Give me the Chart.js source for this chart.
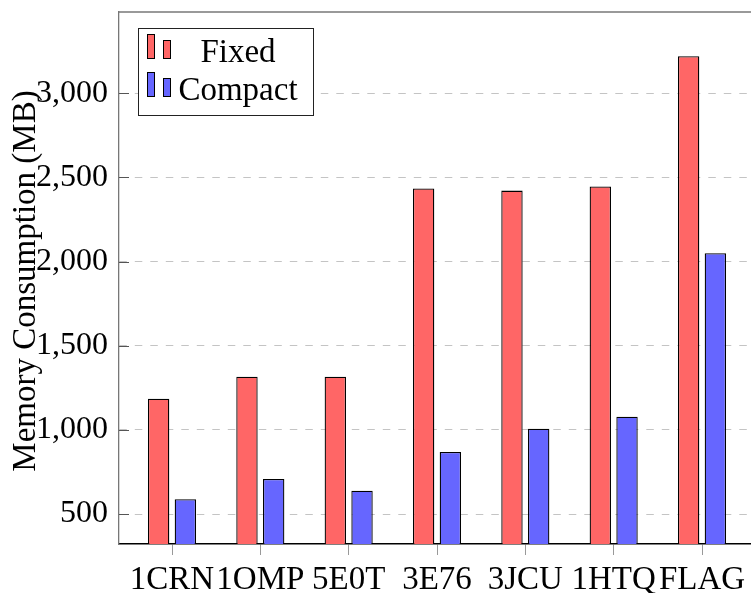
<!DOCTYPE html>
<html>
<head>
<meta charset="utf-8">
<script src="https://cdn.jsdelivr.net/npm/chart.js@4/dist/chart.umd.min.js"></script>
<style>
  html, body { margin: 0; padding: 0; background: #fff; overflow: hidden; }
  #wrap { width: 760px; height: 593px; }
</style>
</head>
<body>
<div id="wrap"><canvas id="chart" width="760" height="593"></canvas></div>
<script>
// Protein structures on the x axis
const categories = ['1CRN', '1OMP', '5E0T', '3E76', '3JCU', '1HTQ', 'FLAG'];
// Memory consumption in MB for each storage scheme
const fixedMB   = [1185, 1316, 1316, 2434, 2421, 2446, 3219];
const compactMB = [588, 708, 639, 869, 1007, 1078, 2049];
const seriesNames = ['Fixed', 'Compact'];
const yTickValues = [500, 1000, 1500, 2000, 2500, 3000];
const yAxisTitle = 'Memory Consumption (MB)';

const SERIF = "'Liberation Serif', 'Times New Roman', serif";
Chart.defaults.font.family = SERIF;
Chart.defaults.color = '#000';

const toPoints = arr => arr.map((v, i) => ({ x: i, y: v }));

// Frame pieces, inward y ticks, y title and the boxed legend
const decorations = {
  id: 'decorations',
  beforeDatasetsDraw(chart) {
    const { ctx, chartArea: a, scales: { y } } = chart;
    ctx.save();
    ctx.strokeStyle = '#555';
    ctx.lineWidth = 1;
    y.ticks.forEach(t => {
      const py = Math.round(y.getPixelForValue(t.value)) + 0.5;
      ctx.beginPath();
      ctx.moveTo(a.left, py);
      ctx.lineTo(a.left + 10, py);
      ctx.stroke();
    });
    ctx.strokeStyle = '#777';
    ctx.lineWidth = 1.3;
    ctx.beginPath();
    ctx.moveTo(a.left, a.top);
    ctx.lineTo(a.right, a.top);
    ctx.stroke();
    ctx.restore();
  },
  afterDraw(chart) {
    const { ctx, chartArea: a } = chart;
    ctx.save();
    // y axis title
    ctx.translate(35, (a.top + a.bottom) / 2 + 3);
    ctx.rotate(-Math.PI / 2);
    ctx.font = '33px ' + SERIF;
    ctx.fillStyle = '#000';
    ctx.textAlign = 'center';
    ctx.textBaseline = 'alphabetic';
    ctx.fillText(yAxisTitle, 0, 0);
    ctx.restore();

    // legend
    ctx.save();
    const bx = a.left + 19, by = a.top + 16, bw = 175, bh = 87;
    ctx.fillStyle = '#fff';
    ctx.fillRect(bx, by, bw, bh);
    ctx.strokeStyle = '#222';
    ctx.lineWidth = 1;
    ctx.strokeRect(bx + 0.5, by + 0.5, bw, bh);
    chart.data.datasets.forEach((ds, i) => {
      const rowBase = by + 34 + i * 38;
      ctx.fillStyle = ds.backgroundColor;
      ctx.strokeStyle = ds.borderColor;
      ctx.lineWidth = 1;
      ctx.fillRect(bx + 9, rowBase - 28, 8, 25);
      ctx.strokeRect(bx + 9.5, rowBase - 27.5, 7, 24);
      ctx.fillRect(bx + 25, rowBase - 22, 8, 19);
      ctx.strokeRect(bx + 25.5, rowBase - 21.5, 7, 18);
      ctx.fillStyle = '#000';
      ctx.font = '33px ' + SERIF;
      ctx.textAlign = 'center';
      ctx.textBaseline = 'alphabetic';
      ctx.fillText(ds.label, bx + 100, rowBase);
    });
    ctx.restore();
  }
};

new Chart(document.getElementById('chart'), {
  type: 'bar',
  data: {
    datasets: [
      {
        label: seriesNames[0],
        data: toPoints(fixedMB),
        backgroundColor: '#ff6666',
        borderColor: '#000',
        borderWidth: 1.3,
        categoryPercentage: 0.605,
        barPercentage: 0.8,
        clip: 0
      },
      {
        label: seriesNames[1],
        data: toPoints(compactMB),
        backgroundColor: '#6666ff',
        borderColor: '#000',
        borderWidth: 1.3,
        categoryPercentage: 0.605,
        barPercentage: 0.8,
        clip: 0
      }
    ]
  },
  options: {
    responsive: false,
    animation: false,
    layout: { padding: { top: 12, right: 5, left: 0, bottom: 0 } },
    plugins: { legend: { display: false }, tooltip: { enabled: false } },
    scales: {
      x: {
        type: 'linear',
        min: -0.6,
        max: 6.6,
        offset: false,
        afterBuildTicks(scale) { scale.ticks = categories.map((_, i) => ({ value: i })); },
        afterFit(scale) {
          scale.height = 49;
          scale.paddingLeft = 0;
          scale.paddingRight = 0;
        },
        grid: {
          offset: false,
          drawOnChartArea: false,
          drawTicks: true,
          tickLength: 11,
          color: '#999',
          lineWidth: 1
        },
        border: { display: true, color: '#000', width: 1.6 },
        ticks: {
          autoSkip: false,
          maxRotation: 0,
          minRotation: 0,
          padding: 6,
          font: { size: 33, family: SERIF },
          color: '#000',
          callback: v => categories[v] !== undefined ? categories[v] : ''
        }
      },
      y: {
        min: 322,
        max: 3482,
        afterBuildTicks(scale) { scale.ticks = yTickValues.map(v => ({ value: v })); },
        afterFit(scale) {
          scale.width = 119;
          scale.paddingTop = 0;
          scale.paddingBottom = 0;
        },
        grid: {
          drawTicks: false,
          color: '#c4c4c4',
          lineWidth: 1
        },
        border: { display: true, color: '#777', width: 1.3, dash: [7.5, 8] },
        ticks: {
          padding: 11,
          font: { size: 32, family: SERIF },
          color: '#000',
          callback: v => v.toLocaleString('en-US')
        }
      }
    }
  },
  plugins: [decorations]
});
</script>
</body>
</html>
